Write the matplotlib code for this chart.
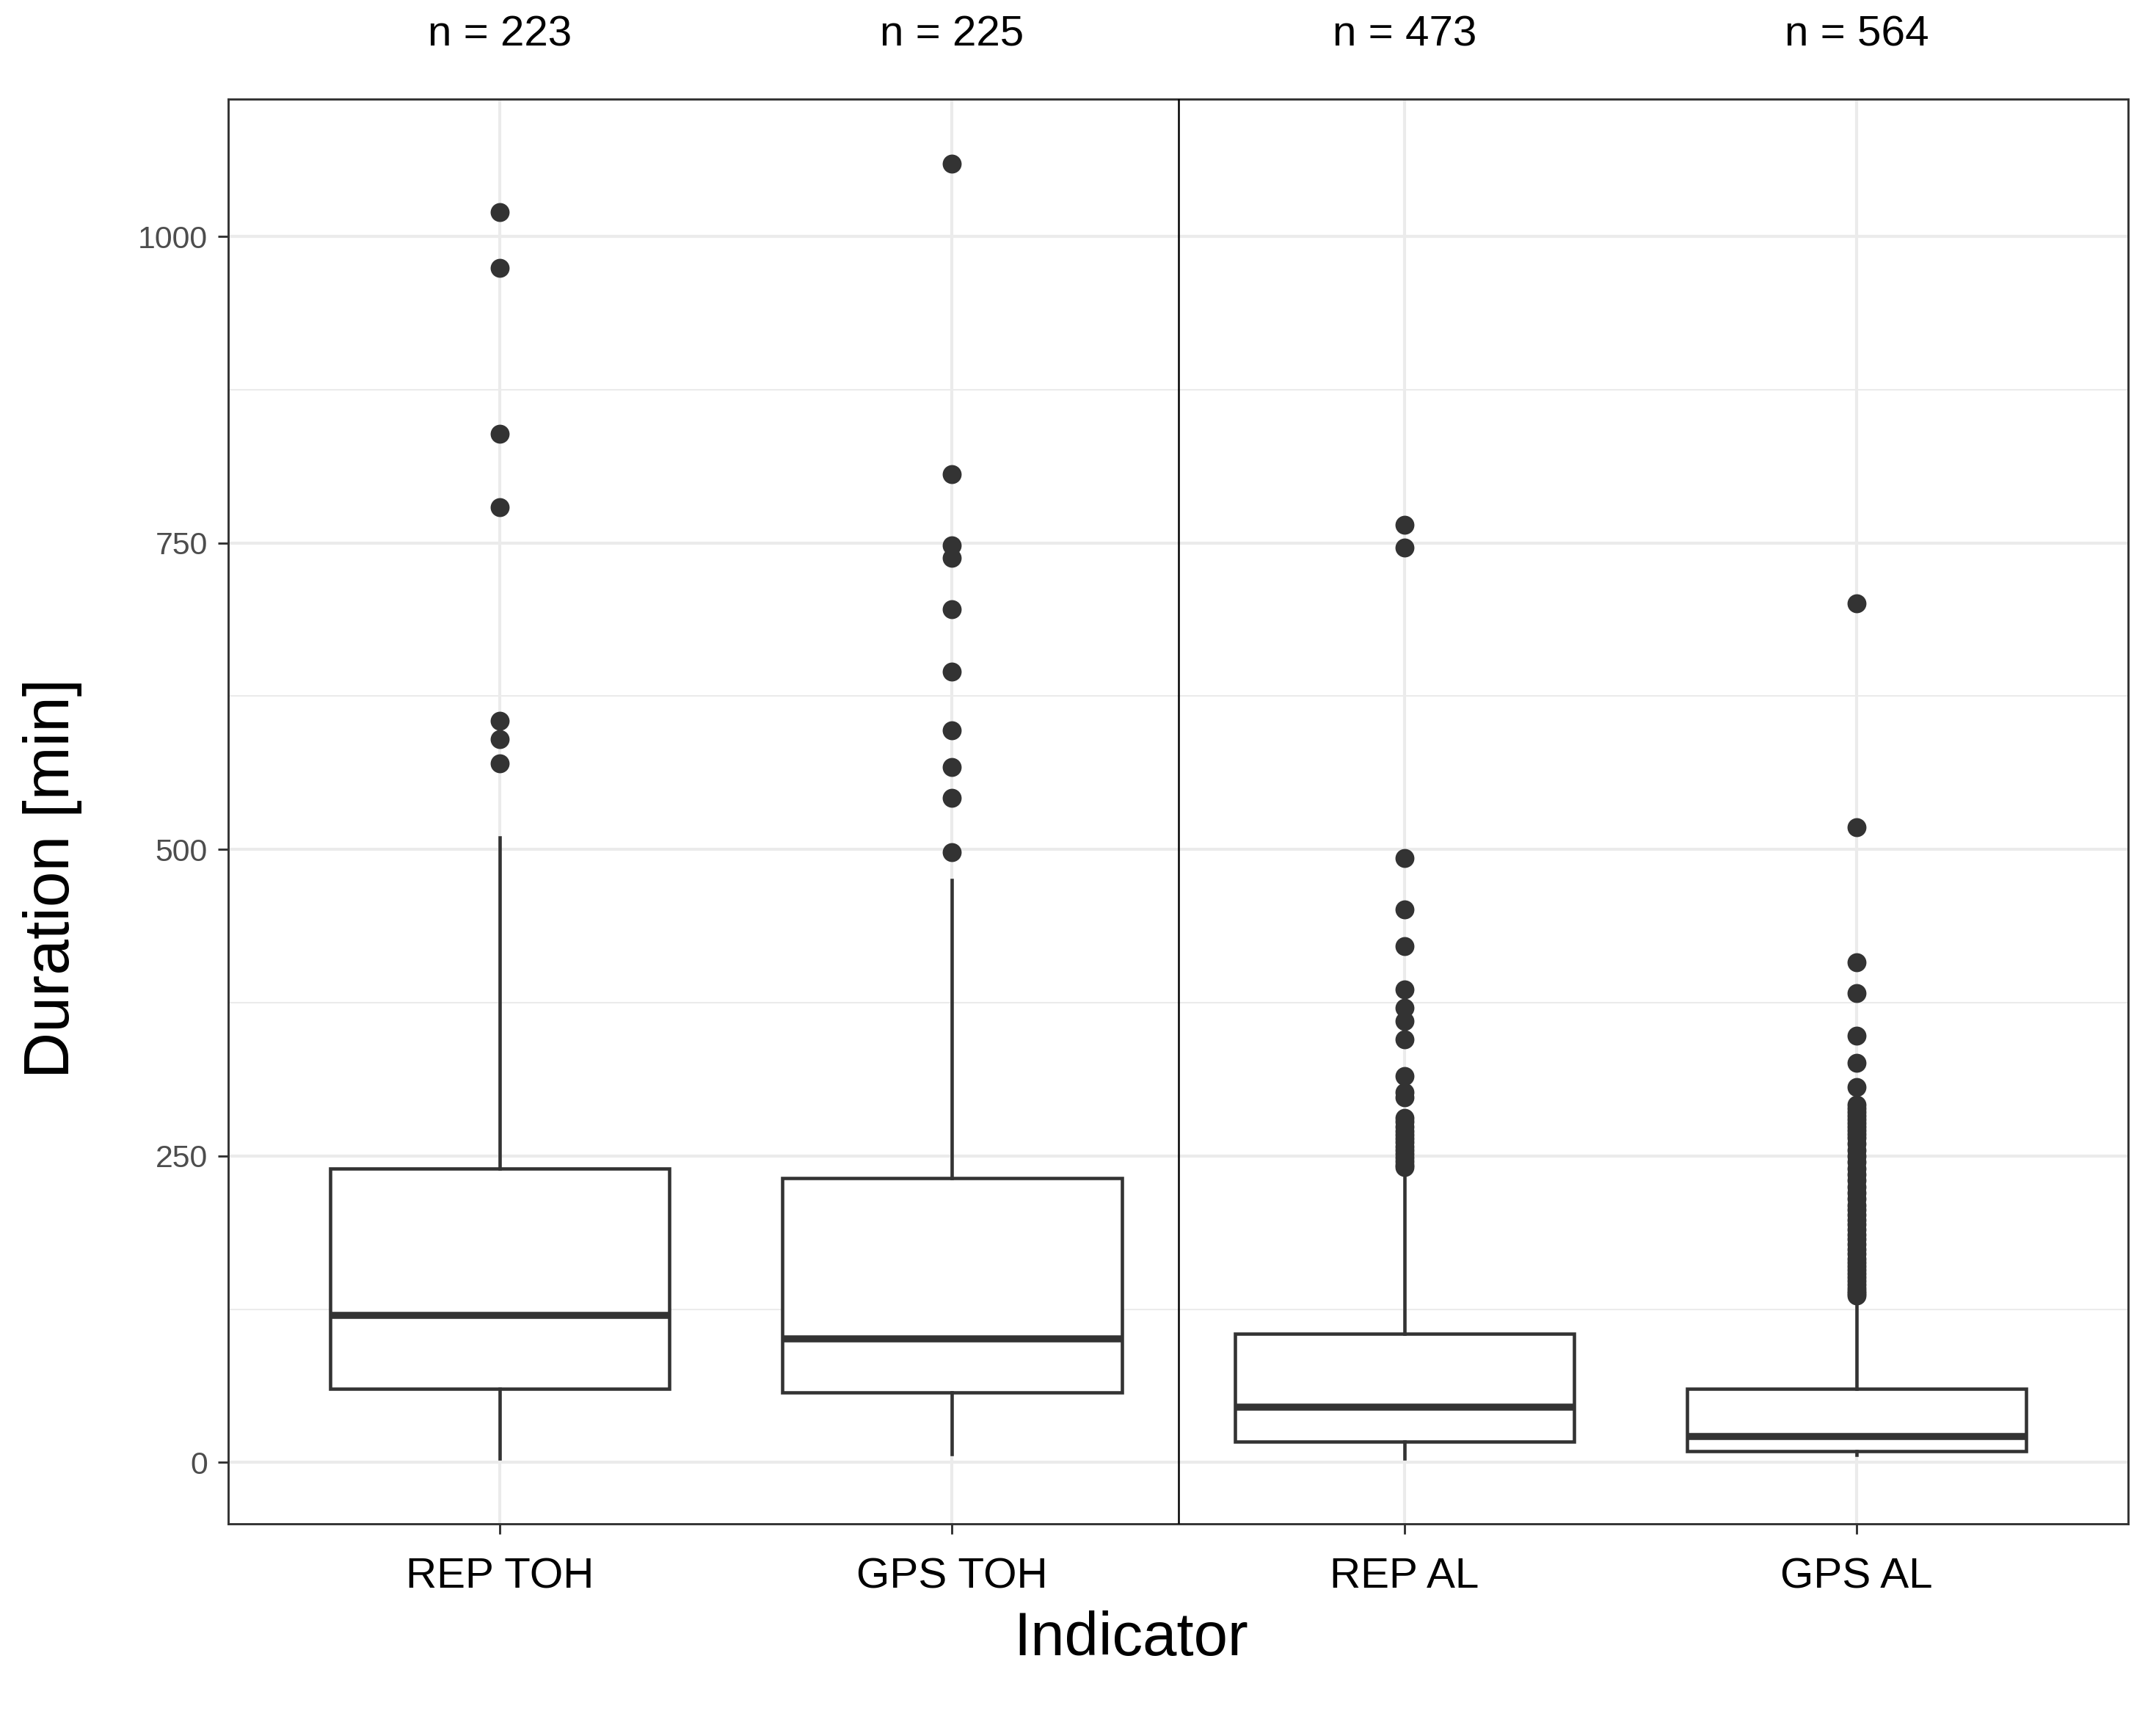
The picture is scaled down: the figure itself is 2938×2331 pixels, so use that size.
import matplotlib
matplotlib.use("Agg")
import matplotlib.pyplot as plt
import matplotlib.transforms as mtransforms

plt.rcParams['font.family'] = ['Liberation Sans', 'DejaVu Sans']

# data
categories = ["REP TOH", "GPS TOH", "REP AL", "GPS AL"]
n_obs = [223, 225, 473, 564]
whisker_low = [3, 7, 3, 6]
q1 = [60, 57, 17, 9]
medians = [120, 101, 45, 21]
q3 = [240, 232, 105, 60]
whisker_high = [510, 475, 236, 134]

outliers_rep_toh = [570, 590, 605, 779, 839, 974, 1020]
outliers_gps_toh = [498, 542, 567, 597, 645, 696, 738, 748, 806, 1059]
outliers_rep_al = [241, 243, 246, 249, 252, 255, 258, 261, 264, 267, 270, 274,
                   278, 281, 298, 302, 315, 345, 360, 371, 386, 421, 451, 493,
                   746, 765]
outliers_gps_al = [136, 138, 140, 142, 145, 148, 151, 154, 157, 160, 163, 166,
                   170, 174, 178, 182, 186, 190, 194, 198, 202, 206, 210, 215,
                   220, 225, 230, 235, 240, 245, 250, 255, 260, 265, 268, 271,
                   274, 277, 280, 283, 286, 289, 292, 306, 326, 348, 383, 408,
                   518, 701]
outliers = [outliers_rep_toh, outliers_gps_toh, outliers_rep_al, outliers_gps_al]

y_major = [0, 250, 500, 750, 1000]
y_minor = [125, 375, 625, 875]

dark = "#333333"
grid_col = "#EBEBEB"

fig = plt.figure(figsize=(2938 / 300, 2331 / 300), dpi=300)
ax = fig.add_axes([0.1059, 0.1094, 0.8812, 0.8327])

stats = []
for i in range(len(categories)):
    stats.append({
        "label": categories[i],
        "whislo": whisker_low[i],
        "q1": q1[i],
        "med": medians[i],
        "q3": q3[i],
        "whishi": whisker_high[i],
        "fliers": outliers[i],
    })

positions = list(range(1, len(categories) + 1))
ax.bxp(stats, positions=positions, widths=0.75, showcaps=False,
       showfliers=True, patch_artist=True,
       boxprops=dict(facecolor="white", edgecolor=dark, linewidth=1.1),
       medianprops=dict(color=dark, linewidth=2.3, solid_capstyle="butt"),
       whiskerprops=dict(color=dark, linewidth=1.1),
       flierprops=dict(marker="o", markerfacecolor=dark, markeredgecolor=dark,
                       markersize=5.2, linestyle="none"),
       zorder=3)

# divider between TOH and AL
ax.axvline(2.5, color="black", linewidth=0.6, zorder=4)

ax.set_xlim(0.4, 4.6)
ax.set_ylim(-50, 1112)
ax.set_yticks(y_major)
ax.set_yticks(y_minor, minor=True)
ax.set_xticks(positions)
ax.set_xticklabels(categories)

ax.grid(True, which="major", color=grid_col, linewidth=1.0, zorder=0)
ax.grid(True, which="minor", axis="y", color=grid_col, linewidth=0.5, zorder=0)
ax.set_axisbelow(True)

for sp in ax.spines.values():
    sp.set_color(dark)
    sp.set_linewidth(0.7)

ax.tick_params(axis="y", which="major", colors=dark, labelcolor="#4D4D4D",
               labelsize=10.3, length=3.4, width=0.7, pad=3.4)
ax.tick_params(axis="y", which="minor", length=0)
ax.tick_params(axis="x", which="major", colors=dark, labelcolor="black",
               labelsize=14, length=3.4, width=0.7, pad=7.5)

ax.set_xlabel("Indicator", fontsize=20, va="center")
ax.set_ylabel("Duration [min]", fontsize=21, va="center")
ax.xaxis.set_label_coords(0.475, -0.081)
ax.yaxis.set_label_coords(-0.0927, 0.453)

# sample sizes above each box
trans = mtransforms.blended_transform_factory(ax.transData, ax.transAxes)
for i in range(len(categories)):
    ax.text(positions[i], 1.045, "n = " + str(n_obs[i]), transform=trans,
            ha="center", va="center", fontsize=14, color="black")

fig.savefig("out.png", dpi=300)
